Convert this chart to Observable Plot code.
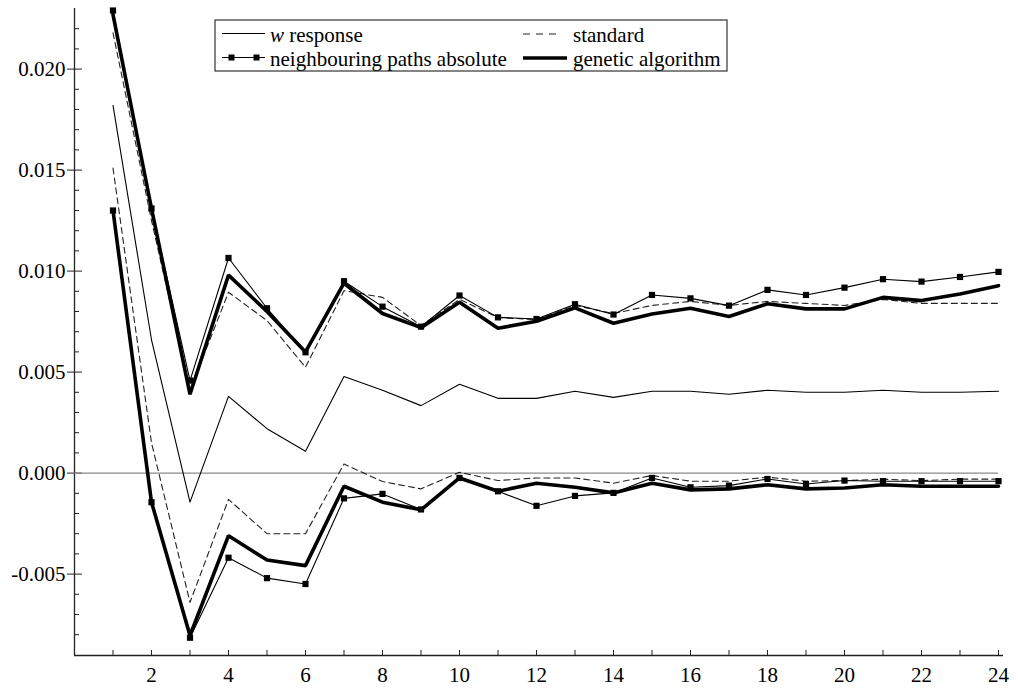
<!DOCTYPE html>
<html>
<head>
<meta charset="utf-8">
<script src="https://cdn.jsdelivr.net/npm/d3@7"></script>
<script src="https://cdn.jsdelivr.net/npm/@observablehq/plot@0.6"></script>
<style>
  html, body { margin: 0; padding: 0; background: #fff; }
  #chart svg { display: block; }
  #chart svg, #chart svg text { font-family: "Liberation Serif", "DejaVu Serif", serif !important; }
</style>
</head>
<body>
<div id="chart"></div>
<script>
// ---- data ----
const steps = [1,2,3,4,5,6,7,8,9,10,11,12,13,14,15,16,17,18,19,20,21,22,23,24];

const wResponse = [0.0182,0.0066,-0.00144,0.0038,0.0022,0.00108,0.00478,0.0041,0.00334,0.0044,0.0037,0.0037,
  0.00405,0.00375,0.00405,0.00405,0.0039,0.0041,0.0040,0.0040,0.0041,0.0040,0.0040,0.00405];

const standardUpper = [0.0218,0.0125,0.0041,0.00895,0.00755,0.00524,0.00903,0.0087,0.0073,0.0086,0.0077,0.0076,
  0.0083,0.0079,0.0083,0.0085,0.0083,0.0085,0.0084,0.0083,0.0086,0.0084,0.0084,0.0084];
const standardLower = [0.0151,0.0015,-0.0064,-0.0013,-0.0030,-0.0030,0.00045,-0.00042,-0.00078,0.00004,-0.00037,-0.00024,
  -0.00024,-0.0005,-0.00012,-0.0004,-0.0004,-0.0002,-0.0004,-0.00037,-0.0003,-0.00037,-0.0003,-0.0003];

const neighbourUpper = [0.0229,0.0131,0.00458,0.01065,0.00816,0.00598,0.0095,0.00824,0.00725,0.00879,0.00771,0.00763,
  0.00836,0.00785,0.00882,0.00865,0.00829,0.00907,0.00882,0.00918,0.0096,0.00948,0.00971,0.00996];
const neighbourLower = [0.0130,-0.00144,-0.00815,-0.00419,-0.0052,-0.00549,-0.00125,-0.00103,-0.0018,-0.00024,-0.0009,-0.00162,
  -0.00113,-0.00098,-0.00024,-0.0007,-0.00062,-0.00029,-0.00054,-0.00037,-0.0004,-0.0004,-0.0004,-0.0004];

const geneticUpper = [0.0227,0.0131,0.0039,0.0098,0.0080,0.0060,0.0094,0.0079,0.0072,0.00846,0.00717,0.00752,
  0.00818,0.00742,0.00788,0.00816,0.00775,0.00838,0.00813,0.00813,0.0087,0.00854,0.00887,0.00928];
const geneticLower = [0.0130,-0.00144,-0.00804,-0.0031,-0.0043,-0.00458,-0.00065,-0.00144,-0.00182,-0.00024,-0.0009,-0.0005,
  -0.0007,-0.00098,-0.0005,-0.00083,-0.00078,-0.00058,-0.00078,-0.00074,-0.00058,-0.00065,-0.00065,-0.00065];

const yMajorTicks = [-0.005, 0.000, 0.005, 0.010, 0.015, 0.020];
const yMinorTicks = [-0.008,-0.007,-0.006,-0.004,-0.003,-0.002,-0.001,0.001,0.002,0.003,0.004,0.006,0.007,0.008,0.009,
  0.011,0.012,0.013,0.014,0.016,0.017,0.018,0.019,0.021,0.022];
const xLabelTicks = [2,4,6,8,10,12,14,16,18,20,22,24];

const legendLabels = ["w response", "standard", "neighbouring paths absolute", "genetic algorithm"];

// ---- build tables ----
function rows(values, key) { return steps.map((s, i) => ({step: s, value: values[i], key})); }
const wRows = rows(wResponse, "w");
const stdRows = [...rows(standardUpper, "su"), ...rows(standardLower, "sl")];
const nbRows = [...rows(neighbourUpper, "nu"), ...rows(neighbourLower, "nl")];
const gaRows = [...rows(geneticUpper, "gu"), ...rows(geneticLower, "gl")];

const yDomain = [-0.00903, 0.023];
const xDomain = [0, 24.13];
const font = '"Liberation Serif", "DejaVu Serif", serif';

const chart = Plot.plot({
  width: 1018,
  height: 688,
  marginLeft: 74,
  marginRight: 15,
  marginTop: 8,
  marginBottom: 33,
  x: {domain: xDomain},
  y: {domain: yDomain},
  style: {fontFamily: font, fontSize: "21px", background: "white", color: "black"},
  marks: [
    Plot.ruleX([xDomain[0]], {stroke: "#222", strokeWidth: 1.3}),
    Plot.ruleY([yDomain[0]], {stroke: "#222", strokeWidth: 1.3}),
    Plot.axisY(yMajorTicks, {tickSize: 0, tickPadding: 9, tickFormat: d => d.toFixed(3), fontSize: 21, label: null}),
    Plot.axisY(yMajorTicks, {tickSize: 15, dx: 8, tickFormat: () => "", label: null, stroke: "#222"}),
    Plot.axisY(yMinorTicks, {tickSize: 5, dx: 5, tickFormat: () => "", label: null, stroke: "#222"}),
    Plot.axisX(steps, {tickSize: 5, dy: -5, tickFormat: () => "", label: null, stroke: "#222"}),
    Plot.axisX(xLabelTicks, {tickSize: 0, tickPadding: 12, tickFormat: d => String(d), fontSize: 21, label: null}),
    Plot.ruleY([0], {x1: xDomain[0], x2: d3.max(steps), stroke: "#8a8a8a", strokeWidth: 1.3}),
    Plot.line(wRows, {x: "step", y: "value", z: "key", stroke: "black", strokeWidth: 1.1}),
    Plot.line(stdRows, {x: "step", y: "value", z: "key", stroke: "#222", strokeWidth: 1.1, strokeDasharray: "6,4"}),
    Plot.line(nbRows, {x: "step", y: "value", z: "key", stroke: "black", strokeWidth: 1.1}),
    Plot.dot(nbRows, {x: "step", y: "value", symbol: "square", r: 3.5, fill: "black", stroke: "none"}),
    Plot.line(gaRows, {x: "step", y: "value", z: "key", stroke: "black", strokeWidth: 3.6, strokeLinejoin: "miter"})
  ]
});

document.getElementById("chart").appendChild(chart);

// ---- legend (inside the plot, top) ----
const svg = d3.select(chart);
const lg = svg.append("g").attr("font-size", 21).attr("fill", "black").attr("text-anchor", "start");
lg.append("rect").attr("x", 215).attr("y", 20).attr("width", 512).attr("height", 51)
  .attr("fill", "white").attr("stroke", "#333").attr("stroke-width", 1.2);

const items = [
  {label: legendLabels[0], x0: 222, x1: 265, tx: 270, ly: 33.5, ty: 42, style: "w"},
  {label: legendLabels[1], x0: 523, x1: 562, tx: 573, ly: 34, ty: 42, style: "std"},
  {label: legendLabels[2], x0: 222, x1: 265, tx: 270, ly: 57.5, ty: 65.5, style: "nb"},
  {label: legendLabels[3], x0: 523, x1: 567, tx: 573, ly: 58, ty: 65.5, style: "ga"}
];
for (const it of items) {
  const line = lg.append("line").attr("x1", it.x0).attr("x2", it.x1).attr("y1", it.ly).attr("y2", it.ly)
    .attr("stroke", "black");
  if (it.style === "w") line.attr("stroke-width", 1.1);
  if (it.style === "std") line.attr("stroke-width", 1.1).attr("stroke", "#222").attr("stroke-dasharray", "7,6");
  if (it.style === "nb") {
    line.attr("stroke-width", 1.1);
    for (const mx of [231.5, 256.5]) {
      lg.append("rect").attr("x", mx - 3).attr("y", it.ly - 3).attr("width", 6).attr("height", 6).attr("fill", "black");
    }
  }
  if (it.style === "ga") line.attr("stroke-width", 3.6);
  const t = lg.append("text").attr("x", it.tx).attr("y", it.ty).attr("text-anchor", "start");
  if (it.style === "w") {
    t.append("tspan").attr("font-style", "italic").text("w");
    t.append("tspan").text(it.label.slice(1));
  } else {
    t.text(it.label);
  }
}
</script>
</body>
</html>
